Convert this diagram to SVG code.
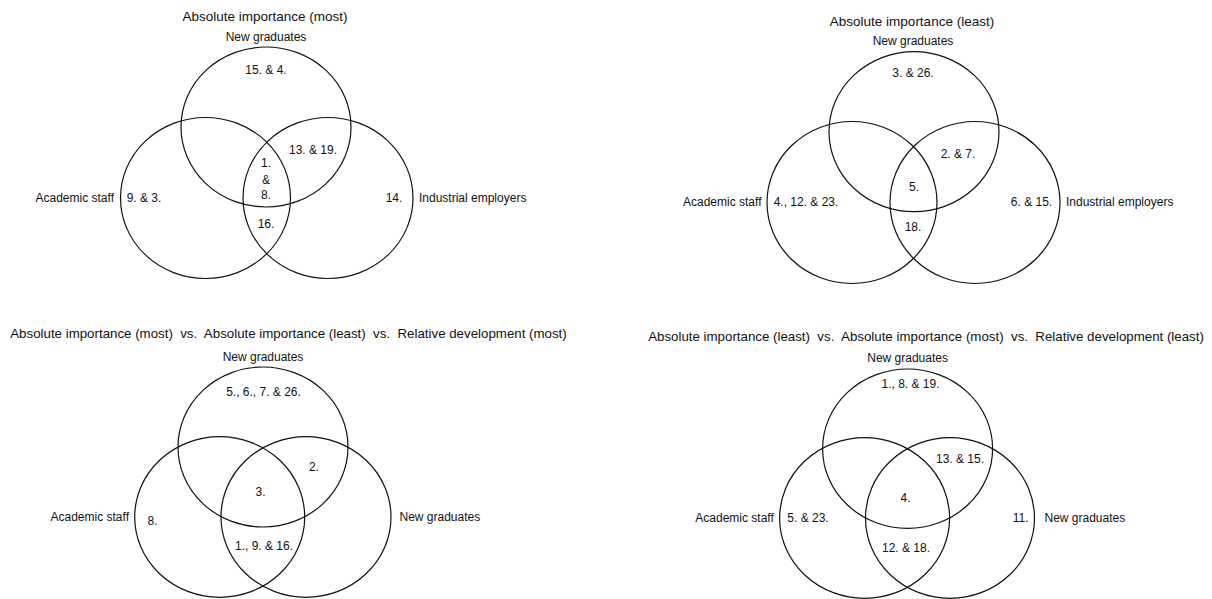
<svg xmlns="http://www.w3.org/2000/svg" width="1212" height="599" viewBox="0 0 1212 599">
<style>
  .c { fill: none; stroke: #111; stroke-width: 1.2; }
  text { font-family: "Liberation Sans", Arial, sans-serif; fill: #111; }
  .t { font-size: 13.5px; text-anchor: middle; white-space: pre; }
  .tw { font-size: 13.3px; text-anchor: middle; white-space: pre; }
  .l { font-size: 12px; text-anchor: middle; }
  .s { font-size: 12px; }
</style>
<rect width="1212" height="599" fill="#fff"/>

<g id="venn-most">
  <text class="t" x="265" y="21">Absolute importance (most)</text>
  <text class="l" x="266" y="41">New graduates</text>
  <g id="d1-new-graduates"><ellipse class="c" cx="266" cy="127" rx="85" ry="80"/></g>
  <g id="d1-academic-staff"><ellipse class="c" cx="205.5" cy="198" rx="85" ry="80.5"/></g>
  <g id="d1-industrial-employers"><ellipse class="c" cx="328" cy="198" rx="85" ry="80.5"/></g>
  <text class="l" x="266" y="74">15. &amp; 4.</text>
  <text class="l" x="313" y="154">13. &amp; 19.</text>
  <text class="l" x="266" y="167">1.</text>
  <text class="l" x="266" y="184">&amp;</text>
  <text class="l" x="266" y="199">8.</text>
  <text class="l" x="266" y="228">16.</text>
  <text class="s" x="35.5" y="202">Academic staff</text>
  <text class="l" x="144" y="202">9. &amp; 3.</text>
  <text class="l" x="394" y="202">14.</text>
  <text class="s" x="419" y="202">Industrial employers</text>
</g>

<g id="venn-least">
  <text class="t" x="912" y="26">Absolute importance (least)</text>
  <text class="l" x="913" y="45">New graduates</text>
  <g id="d2-new-graduates"><ellipse class="c" cx="914" cy="131.7" rx="85" ry="80"/></g>
  <g id="d2-academic-staff"><ellipse class="c" cx="852" cy="202.5" rx="85" ry="81"/></g>
  <g id="d2-industrial-employers"><ellipse class="c" cx="975" cy="202.5" rx="85" ry="81"/></g>
  <text class="l" x="913" y="77">3. &amp; 26.</text>
  <text class="l" x="958" y="158">2. &amp; 7.</text>
  <text class="l" x="914" y="191">5.</text>
  <text class="l" x="913" y="231">18.</text>
  <text class="s" x="683" y="206">Academic staff</text>
  <text class="l" x="806" y="206">4., 12. &amp; 23.</text>
  <text class="l" x="1031.5" y="206">6. &amp; 15.</text>
  <text class="s" x="1066" y="206">Industrial employers</text>
</g>

<g id="venn-most-vs-least-vs-dev-most">
  <text class="tw" x="288.5" y="338">Absolute importance (most)  vs.  Absolute importance (least)  vs.  Relative development (most)</text>
  <text class="l" x="263" y="360.5">New graduates</text>
  <g id="d3-new-graduates"><ellipse class="c" cx="263" cy="447" rx="85" ry="80"/></g>
  <g id="d3-academic-staff"><ellipse class="c" cx="219.7" cy="517" rx="85" ry="80.3"/></g>
  <g id="d3-new-graduates-right"><ellipse class="c" cx="306" cy="517" rx="85" ry="80.3"/></g>
  <text class="l" x="263.5" y="396">5., 6., 7. &amp; 26.</text>
  <text class="l" x="314" y="471">2.</text>
  <text class="l" x="260.5" y="496">3.</text>
  <text class="l" x="264" y="550">1., 9. &amp; 16.</text>
  <text class="s" x="50.5" y="521">Academic staff</text>
  <text class="l" x="152.5" y="525">8.</text>
  <text class="s" x="399.5" y="521">New graduates</text>
</g>

<g id="venn-least-vs-most-vs-dev-least">
  <text class="tw" x="926" y="340.5">Absolute importance (least)  vs.  Absolute importance (most)  vs.  Relative development (least)</text>
  <text class="l" x="907.6" y="362">New graduates</text>
  <g id="d4-new-graduates"><ellipse class="c" cx="907.6" cy="448.7" rx="85" ry="79.7"/></g>
  <g id="d4-academic-staff"><ellipse class="c" cx="864.6" cy="518" rx="85" ry="80.3"/></g>
  <g id="d4-new-graduates-right"><ellipse class="c" cx="950" cy="518" rx="84.5" ry="80.3"/></g>
  <text class="l" x="910.5" y="388">1., 8. &amp; 19.</text>
  <text class="l" x="960" y="463">13. &amp; 15.</text>
  <text class="l" x="905.5" y="502">4.</text>
  <text class="l" x="906" y="552">12. &amp; 18.</text>
  <text class="s" x="695.3" y="522">Academic staff</text>
  <text class="l" x="808" y="522">5. &amp; 23.</text>
  <text class="l" x="1020.7" y="522">11.</text>
  <text class="s" x="1044.5" y="522">New graduates</text>
</g>
</svg>
